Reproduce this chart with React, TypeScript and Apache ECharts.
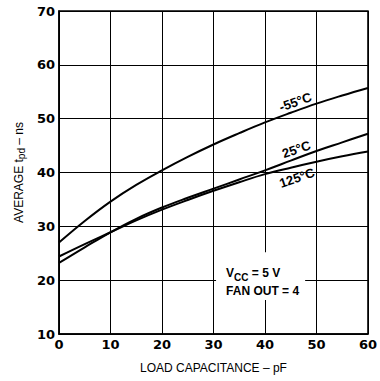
import React, { useEffect, useRef } from "react";
import * as echarts from "echarts";

const xTicks = [0, 10, 20, 30, 40, 50, 60];
const loadPF = [0, 5, 10, 15, 20, 25, 30, 35, 40, 45, 50, 55, 60];
const tpdMinus55 = [27.0, 31.0, 34.6, 37.7, 40.4, 42.9, 45.2, 47.3, 49.3, 51.1, 52.8, 54.3, 55.7];
const tpd25 = [23.2, 26.1, 28.9, 31.4, 33.5, 35.3, 37.0, 38.7, 40.4, 42.2, 44.0, 45.6, 47.2];
const tpd125 = [24.4, 26.7, 28.9, 31.1, 33.1, 34.9, 36.6, 38.2, 39.7, 40.9, 42.0, 43.0, 43.9];
const curveLabels = ["-55°C", "25°C", "125°C"];
const labelPos = [
  [45.9, 53.1],
  [46.1, 44.3],
  [46.2, 39.0],
];
const noteBox = [
  [30.5, 25.2],
  [47.8, 16.3],
];

const FONT = "'Liberation Sans', Arial, sans-serif";

export default function App() {
  const ref = useRef<HTMLDivElement>(null);
  useEffect(() => {
    if (!ref.current) return;
    const chart = echarts.init(ref.current, null, { renderer: "svg" });
    const mk = (vals: number[], idx: number, extra: any = {}) => ({
      type: "line",
      data: loadPF.map((x, i) => [x, vals[i]]),
      smooth: 0.4,
      symbol: "none",
      lineStyle: { color: "#000", width: 2 },
      markPoint: {
        symbol: "circle",
        symbolSize: 0,
        data: [{ coord: labelPos[idx] }],
        label: {
          show: true,
          formatter: curveLabels[idx],
          rotate: 19,
          color: "#000",
          fontFamily: FONT,
          fontWeight: "bold",
          fontSize: 13,
          position: "inside",
        },
      },
      ...extra,
    });
    chart.setOption({
      animation: false,
      backgroundColor: "#fff",
      grid: { left: 59, right: 6, top: 11, bottom: 47, show: true, borderColor: "#000", borderWidth: 1.5 },
      xAxis: {
        type: "value",
        min: 0,
        max: 60,
        interval: 10,
        name: "LOAD CAPACITANCE – pF",
        nameLocation: "middle",
        nameGap: 28,
        nameTextStyle: { fontFamily: FONT, fontSize: 12, color: "#000" },
        axisLine: { show: true, lineStyle: { color: "#000", width: 1.5 } },
        axisTick: { show: false },
        splitLine: { show: true, lineStyle: { color: "#000", width: 1 } },
        axisLabel: {
          color: "#000",
          fontFamily: "'DejaVu Sans', sans-serif",
          fontWeight: "bold",
          fontSize: 13,
          margin: 4,
          formatter: (v: number) => (xTicks.includes(v) ? String(v) : ""),
        },
      },
      yAxis: {
        type: "value",
        min: 10,
        max: 70,
        interval: 10,
        name: "AVERAGE t{sub|pd} – ns",
        nameLocation: "middle",
        nameGap: 32,
        nameTextStyle: {
          fontFamily: FONT,
          fontSize: 12,
          color: "#000",
          rich: { sub: { fontFamily: FONT, fontSize: 10, color: "#000", verticalAlign: "bottom", padding: [4, 0, 0, 0] } },
        },
        axisLine: { show: true, lineStyle: { color: "#000", width: 1.5 } },
        axisTick: { show: false },
        splitLine: { show: true, lineStyle: { color: "#000", width: 1 } },
        axisLabel: {
          color: "#000",
          fontFamily: "'DejaVu Sans', sans-serif",
          fontWeight: "bold",
          fontSize: 13,
          margin: 4,
        },
      },
      series: [
        mk(tpdMinus55, 0, {
          markArea: {
            silent: true,
            itemStyle: { color: "#fff" },
            data: [[{ coord: noteBox[0] }, { coord: noteBox[1] }]],
            label: {
              show: true,
              position: [10, 12],
              formatter: "V{sub|CC} = 5 V\nFAN OUT = 4",
              color: "#000",
              fontFamily: FONT,
              fontWeight: "bold",
              fontSize: 12,
              lineHeight: 18,
              rich: {
                sub: { fontFamily: FONT, fontWeight: "bold", fontSize: 10, color: "#000", verticalAlign: "bottom", padding: [5, 0, 0, 0] },
              },
            },
          },
        }),
        mk(tpd25, 1),
        mk(tpd125, 2),
      ],
    });
    return () => chart.dispose();
  }, []);
  return <div ref={ref} style={{ position: "fixed", left: 0, top: 0, width: 380, height: 381 }} />;
}
